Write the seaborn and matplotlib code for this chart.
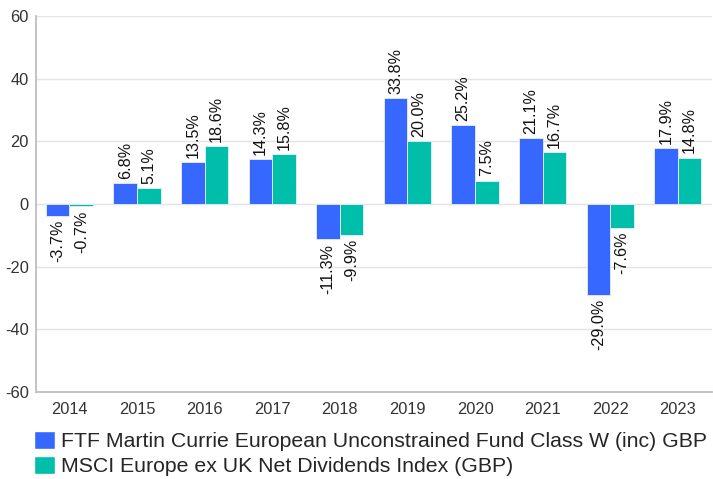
import matplotlib
matplotlib.use("Agg")
import matplotlib.pyplot as plt
import seaborn as sns
import pandas as pd
from matplotlib.patches import Patch

years = ["2014", "2015", "2016", "2017", "2018", "2019", "2020", "2021", "2022", "2023"]
fund_name = "FTF Martin Currie European Unconstrained Fund Class W (inc) GBP"
index_name = "MSCI Europe ex UK Net Dividends Index (GBP)"
fund_values = [-3.7, 6.8, 13.5, 14.3, -11.3, 33.8, 25.2, 21.1, -29.0, 17.9]
index_values = [-0.7, 5.1, 18.6, 15.8, -9.9, 20.0, 7.5, 16.7, -7.6, 14.8]
y_ticks = [-60, -40, -20, 0, 20, 40, 60]

colors = ["#3668FF", "#00BFAA"]

sns.set_theme(style="white")
plt.rcParams["font.family"] = ["Liberation Sans", "DejaVu Sans"]
plt.rcParams["axes.unicode_minus"] = False

df = pd.DataFrame({
    "year": years * 2,
    "value": fund_values + index_values,
    "series": [fund_name] * len(years) + [index_name] * len(years),
})

fig = plt.figure(figsize=(7.13, 4.79), dpi=100)
ax = fig.add_axes([0.05, 0.1816, 0.948, 0.785])

sns.barplot(data=df, x="year", y="value", hue="series", palette=colors,
            saturation=1, width=0.7, ax=ax, legend=False,
            edgecolor="#e8eeff", linewidth=0.6)

for cont in ax.containers:
    labels = [f"{v:.1f}%" for v in cont.datavalues]
    ax.bar_label(cont, labels=labels, rotation=90, padding=3, fontsize=11.6, color="#111111")

ax.set_ylim(-60, 60)
ax.set_yticks(y_ticks)
ax.set_yticklabels([str(t) for t in y_ticks])
ax.set_xlim(-0.5, 9.5)
ax.set_xlabel("")
ax.set_ylabel("")
ax.yaxis.grid(True, color="#e3e3e3", linewidth=1)
ax.set_axisbelow(True)
for s in ["top", "right"]:
    ax.spines[s].set_visible(False)
ax.spines["left"].set_color("#bbbbbb")
ax.spines["bottom"].set_color("#bbbbbb")
ax.tick_params(axis="both", length=0, labelsize=11.8, colors="#333333")
ax.tick_params(axis="x", pad=7)
ax.tick_params(axis="y", pad=5)

handles = [Patch(facecolor=colors[0]), Patch(facecolor=colors[1])]
fig.legend(handles, [fund_name, index_name], loc="upper left",
           bbox_to_anchor=(0.048, 0.101), frameon=False, fontsize=15.3,
           handlelength=1.0, handleheight=0.95, handletextpad=0.28,
           labelspacing=0.22, borderaxespad=0, borderpad=0)

fig.savefig("out.png", dpi=100)
